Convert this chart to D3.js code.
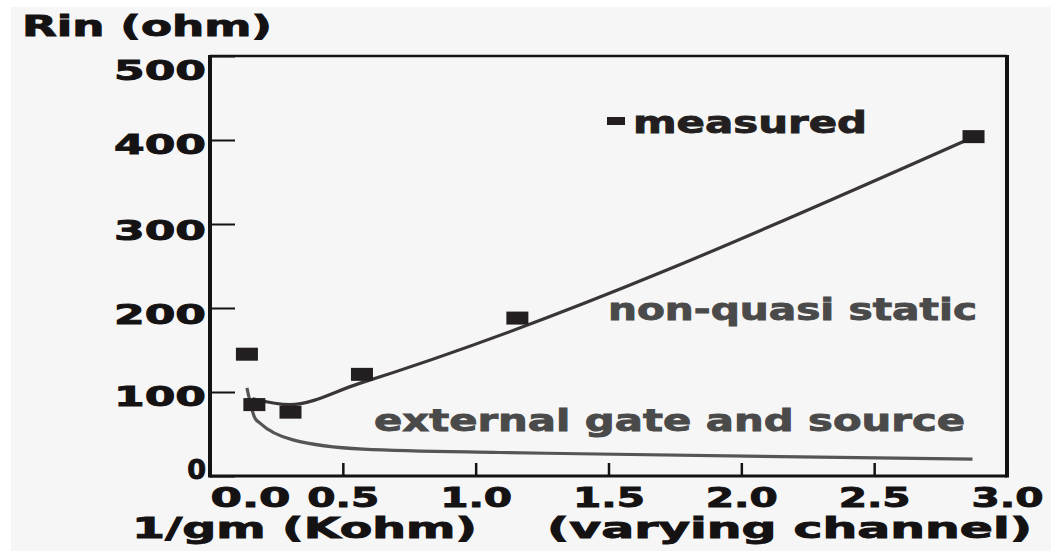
<!DOCTYPE html>
<html><head><meta charset="utf-8">
<script src="https://cdn.jsdelivr.net/npm/d3@7"></script>
<style>body{margin:0;background:#fff}svg{display:block}</style>
</head><body><svg id="c" width="1058" height="551"></svg>
<script>
// ---- data ----
const xTicks = [0, 0.5, 1.0, 1.5, 2.0, 2.5, 3.0];
const xTickLabels = ["0.0", "0.5", "1.0", "1.5", "2.0", "2.5", "3.0"];
const yTicks = [0, 100, 200, 300, 400, 500];
const yTickLabels = ["0", "100", "200", "300", "400", "500"];
const measuredX = [0.139, 0.167, 0.303, 0.572, 1.157, 2.874];
const measuredY = [145, 85, 76, 121, 188, 404];
const nqsX = [0.16, 0.30, 0.56, 2.87];
const nqsY = [92, 85, 110, 403];
const extX = [0.139, 0.169, 0.188, 0.312, 0.576, 1.09, 1.39, 2.87];
const extY = [105, 69, 63, 43, 32, 28, 26.5, 20];
const yTitle = "Rin (ohm)";
const xTitle1 = "1/gm (Kohm)";
const xTitle2 = "(varying channel)";
const legendLabel = "measured";
const nqsLabel = "non-quasi static";
const extLabel = "external gate and source";

// ---- layout ----
const svg = d3.select("#c");
const FONT = "'DejaVu Sans', sans-serif";
const ink = "#151213";
const grey = "#4a4a4a";

svg.append("rect").attr("x", 11).attr("y", 7).attr("width", 1040).attr("height", 544).attr("fill", "#f6f6f6");

const x = d3.scaleLinear().domain([0, 3]).range([210, 1007]);
const y = d3.scaleLinear().domain([0, 500]).range([476, 56]);

// frame
const fr = svg.append("g").attr("stroke", ink).attr("fill", "none");
fr.append("line").attr("x1", x(0)).attr("x2", x(3)).attr("y1", y(500)).attr("y2", y(500)).attr("stroke-width", 2.5);
fr.append("line").attr("x1", x(3)).attr("x2", x(3)).attr("y1", y(500) - 1).attr("y2", y(0) + 1.5).attr("stroke-width", 4);
fr.append("line").attr("x1", x(0)).attr("x2", x(3)).attr("y1", y(0)).attr("y2", y(0)).attr("stroke-width", 3);
fr.append("line").attr("x1", x(0)).attr("x2", x(0)).attr("y1", y(500) - 1).attr("y2", y(0) + 1.5).attr("stroke-width", 4);

// x axis
const xa = svg.append("g").attr("transform", `translate(0,${y(0)})`)
  .call(d3.axisBottom(x).tickValues(xTicks).tickFormat((d, i) => xTickLabels[i]).tickSizeInner(-13).tickSizeOuter(0));
xa.select(".domain").remove();
xa.selectAll(".tick line").attr("stroke", ink).attr("stroke-width", 2.5);
xa.selectAll(".tick text").attr("y", 31).attr("dy", 0)
  .attr("dx", (d, i) => i === 0 ? 40 : 0)
  .attr("font-family", FONT).attr("font-weight", "bold").attr("font-size", 27).attr("fill", ink)
  .attr("stroke", ink).attr("stroke-width", 0.9)
  .attr("textLength", (d, i) => i === 0 ? 80 : 72).attr("lengthAdjust", "spacingAndGlyphs");

// y axis
const yOff = {0: 2, 100: 13, 200: 15, 300: 15, 400: 13, 500: 23};
const ya = svg.append("g").attr("transform", `translate(${x(0)},0)`)
  .call(d3.axisLeft(y).tickValues(yTicks).tickFormat((d, i) => yTickLabels[i]).tickSizeInner(-25).tickSizeOuter(0).tickPadding(4));
ya.select(".domain").remove();
ya.selectAll(".tick line").attr("stroke", ink).attr("stroke-width", 2);
ya.selectAll(".tick text").attr("dy", 0).attr("y", d => yOff[d])
  .attr("font-family", FONT).attr("font-weight", "bold").attr("font-size", 27).attr("fill", ink)
  .attr("stroke", ink).attr("stroke-width", 0.9)
  .each(function (d) { if (d !== 0) d3.select(this).attr("textLength", 92).attr("lengthAdjust", "spacingAndGlyphs"); });

// lines
svg.append("path").datum(extX.map((v, i) => [v, extY[i]]))
  .attr("d", d3.line().x(d => x(d[0])).y(d => y(d[1])).curve(d3.curveMonotoneX))
  .attr("fill", "none").attr("stroke", "#555").attr("stroke-width", 3.2);
svg.append("path").datum(nqsX.map((v, i) => [v, nqsY[i]]))
  .attr("d", d3.line().x(d => x(d[0])).y(d => y(d[1])).curve(d3.curveMonotoneX))
  .attr("fill", "none").attr("stroke", "#3a3637").attr("stroke-width", 3.2);

// measured squares
svg.append("g").selectAll("rect").data(measuredX.map((v, i) => [v, measuredY[i]])).join("rect")
  .attr("x", d => x(d[0]) - 11).attr("y", d => y(d[1]) - 6.5)
  .attr("width", 22).attr("height", 13).attr("fill", "#231f20");

// legend & annotations
svg.append("rect").attr("x", 607).attr("y", 117).attr("width", 18).attr("height", 8).attr("fill", "#231f20");
function txt(s, x0, yb, w, size, col) {
  return svg.append("text").attr("x", x0).attr("y", yb).text(s)
    .attr("font-family", FONT).attr("font-weight", "bold").attr("font-size", size).attr("fill", col)
    .attr("stroke", col).attr("stroke-width", 0.9)
    .attr("textLength", w).attr("lengthAdjust", "spacingAndGlyphs");
}
txt(legendLabel, 633, 133, 234, 31, "#231f20");
txt(nqsLabel, 608, 320, 369, 31, grey);
txt(extLabel, 374, 431, 591, 31, grey);
txt(yTitle, 22, 36, 250, 28, ink);
txt(xTitle1, 132, 538, 345, 28, ink);
txt(xTitle2, 547, 538, 485, 28, ink);
</script></body></html>
